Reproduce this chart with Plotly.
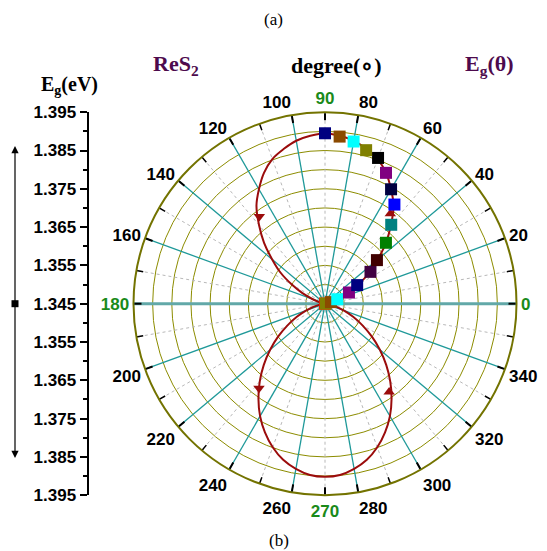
import plotly.graph_objects as go

# ---------------- data ----------------
# measured squares (angle in degrees, band gap in eV)
point_theta = [0, 5, 10, 15, 20, 25, 30, 35, 40, 45, 50, 55, 60, 65, 70, 75, 80, 85, 90]
point_eg = [1.3450, 1.3450, 1.3452, 1.3466, 1.3484, 1.3519, 1.3547, 1.3595, 1.3627, 1.3675,
            1.3719, 1.3766, 1.3795, 1.3827, 1.3855, 1.3865, 1.3880, 1.3888, 1.3895]
point_colors = ["#ff8000", "#ee1111", "#808000", "#8b4a00", "#00ffff", "#800080", "#000080",
                "#400040", "#400000", "#008000", "#008080", "#0000ff", "#000040", "#800080",
                "#000000", "#808000", "#00ffff", "#8b4a00", "#000080"]

# fitted curve (read every 5 degrees)
curve_theta = list(range(0, 365, 5))
curve_eg = [1.3450, 1.3451, 1.3455, 1.3466, 1.3484, 1.3515, 1.3550, 1.3592, 1.3630, 1.3675,
            1.3718, 1.3762, 1.3795, 1.3827, 1.3852, 1.3868, 1.3882, 1.3890, 1.3895,
            1.3890, 1.3882, 1.3868, 1.3852, 1.3827, 1.3795, 1.3762, 1.3718, 1.3675, 1.3630,
            1.3592, 1.3550, 1.3515, 1.3484, 1.3466, 1.3455, 1.3451, 1.3450,
            1.3453, 1.3464, 1.3480, 1.3503, 1.3531, 1.3563, 1.3599, 1.3637, 1.3676, 1.3715,
            1.3753, 1.3789, 1.3821, 1.3849, 1.3872, 1.3888, 1.3899, 1.3902,
            1.3899, 1.3888, 1.3872, 1.3849, 1.3821, 1.3789, 1.3753, 1.3715, 1.3676, 1.3637,
            1.3599, 1.3563, 1.3531, 1.3503, 1.3480, 1.3464, 1.3453, 1.3450]

# direction arrows on the curve
arrow_theta = [127, 54, 232, 306]
arrow_eg = [1.3735, 1.3740, 1.3730, 1.3735]
arrow_symbols = ["triangle-down", "triangle-up", "triangle-down", "triangle-up"]

# axes
radial_min, radial_max = 1.345, 1.395
ring_vals = [1.350, 1.355, 1.360, 1.365, 1.370, 1.375, 1.380, 1.385, 1.390, 1.395]
angle_tickvals = [0, 20, 40, 60, 80, 90, 100, 120, 140, 160, 180, 200, 220, 240, 260, 270,
                  280, 300, 320, 340]
angle_ticktext = ["0", "20", "40", "60", "80", "90", "100", "120", "140", "160", "180",
                  "200", "220", "240", "260", "270", "280", "300", "320", "340"]
green_angles = [0, 90, 180, 270]
left_labels = ["1.395", "1.385", "1.375", "1.365", "1.355", "1.345",
               "1.355", "1.365", "1.375", "1.385", "1.395"]
left_signs = [1, 1, 1, 1, 1, 0, -1, -1, -1, -1, -1]

# ---------------- figure ----------------
W, H = 547, 551
cx, cy, R = 325, 303.7, 191.5
dom_x = [(cx - R) / W, (cx + R) / W]
dom_y = [(H - cy - R) / H, (H - cy + R) / H]

fig = go.Figure()


def spokes(angles, r0=radial_min, r1=radial_max):
    rr, tt = [], []
    for a in angles:
        rr += [r0, r1, None]
        tt += [a, a, None]
    return rr, tt


# dotted 10-degree spokes
r1, t1 = spokes(list(range(10, 360, 20)))
fig.add_trace(go.Scatterpolar(r=r1, theta=t1, mode="lines",
                              line=dict(color="#b8b8b8", width=1, dash="dot"),
                              hoverinfo="skip", showlegend=False))
# teal 20-degree spokes
r2, t2 = spokes([a for a in range(20, 360, 20) if a != 180])
fig.add_trace(go.Scatterpolar(r=r2, theta=t2, mode="lines",
                              line=dict(color="#1f9999", width=1.3),
                              hoverinfo="skip", showlegend=False))
# horizontal axis line
r3, t3 = spokes([0, 180])
fig.add_trace(go.Scatterpolar(r=r3, theta=t3, mode="lines",
                              line=dict(color="#62a8a8", width=3),
                              hoverinfo="skip", showlegend=False))
# black minor ticks on the outer circle
r4, t4 = spokes([a for a in range(10, 360, 20) if a not in (90, 270)],
                r0=radial_max - 0.0018, r1=radial_max)
fig.add_trace(go.Scatterpolar(r=r4, theta=t4, mode="lines",
                              line=dict(color="black", width=1.5),
                              hoverinfo="skip", showlegend=False))

# curve
fig.add_trace(go.Scatterpolar(r=curve_eg, theta=curve_theta, mode="lines",
                              line=dict(color="#9b0c0c", width=2, shape="spline"),
                              showlegend=False))
fig.add_trace(go.Scatterpolar(r=arrow_eg, theta=arrow_theta, mode="markers",
                              marker=dict(symbol=arrow_symbols, size=10, color="#9b0c0c"),
                              showlegend=False))
# squares
fig.add_trace(go.Scatterpolar(r=point_eg, theta=point_theta, mode="markers",
                              marker=dict(symbol="square", size=12, color=point_colors,
                                          line=dict(width=0)),
                              showlegend=False))

# left axis helper trace (invisible)
left_vals = [s * (float(l) - radial_min) for s, l in zip(left_signs, left_labels)]
fig.add_trace(go.Scatter(x=[0, 0], y=[left_vals[0], left_vals[-1]], mode="lines",
                         line=dict(width=0, color="rgba(0,0,0,0)"),
                         hoverinfo="skip", showlegend=False))
minor_vals = [(left_vals[i] + left_vals[i + 1]) / 2 for i in range(len(left_vals) - 1)]

ticktext = []
for a, t in zip(angle_tickvals, angle_ticktext):
    if a in green_angles:
        ticktext.append("<span style='color:#1a8a1a'>" + t + "</span>")
    else:
        ticktext.append(t)

fig.update_layout(
    width=W, height=H, autosize=False,
    margin=dict(l=0, r=0, t=0, b=0, pad=0, autoexpand=False),
    paper_bgcolor="white", plot_bgcolor="white",
    showlegend=False,
    polar=dict(
        domain=dict(x=dom_x, y=dom_y),
        bgcolor="white",
        angularaxis=dict(rotation=0, direction="counterclockwise",
                         tickmode="array", tickvals=angle_tickvals, ticktext=ticktext,
                         ticks="inside", ticklen=7, tickwidth=1.5, tickcolor="black",
                         showgrid=False, showline=True, linecolor="#737300", linewidth=2,
                         tickfont=dict(family="Liberation Sans", size=17, color="black",
                                       weight="bold")),
        radialaxis=dict(range=[radial_min, radial_max], tickmode="array", tickvals=ring_vals,
                        showgrid=True, gridcolor="#8c8c00", gridwidth=1.4,
                        showticklabels=False, ticks="", showline=False),
    ),
    xaxis=dict(domain=[0, 0.16], visible=False, range=[-1, 1], automargin=False),
    yaxis=dict(domain=dom_y, anchor="free", position=87.5 / W, side="left",
               automargin=False,
               range=[left_vals[-1], left_vals[0]], tickmode="array",
               tickvals=left_vals, ticktext=left_labels,
               ticks="outside", ticklen=7, tickwidth=2, tickcolor="black",
               minor=dict(tickmode="array", tickvals=minor_vals, ticks="outside",
                          ticklen=4, tickwidth=1.5, tickcolor="black"),
               showline=True, linecolor="black", linewidth=2,
               showgrid=False, zeroline=False,
               tickfont=dict(family="Liberation Sans", size=17, color="black", weight="bold")),
)

serif = "Liberation Serif"
purple = "#4d0a4d"
ann = [
    dict(text="(a)", x=273 / W, y=1 - 20 / H, font=dict(family=serif, size=17, color="black")),
    dict(text="(b)", x=279 / W, y=1 - 540 / H, font=dict(family=serif, size=17, color="black")),
    dict(text="<b>ReS<sub>2</sub></b>", x=176 / W, y=1 - 65 / H,
         font=dict(family=serif, size=22, color=purple)),
    dict(text="<b>degree(∘)</b>", x=336 / W, y=1 - 65 / H,
         font=dict(family=serif, size=22, color="black")),
    dict(text="<b>E<sub>g</sub>(θ)</b>", x=489 / W, y=1 - 65 / H,
         font=dict(family=serif, size=22, color=purple)),
    dict(text="<b>E<sub>g</sub>(eV)</b>", x=69 / W, y=1 - 85 / H,
         font=dict(family=serif, size=20, color="black")),
]
for a in ann:
    a.update(xref="paper", yref="paper", showarrow=False, xanchor="center", yanchor="middle")
    fig.add_annotation(**a)

# double arrow on the left
ax_x = 15 / W
fig.add_annotation(x=ax_x, y=1 - 146 / H, xref="paper", yref="paper", ax=0, ay=157.7,
                   text="", showarrow=True, arrowhead=2, arrowsize=1.2, arrowwidth=1.2,
                   arrowcolor="black")
fig.add_annotation(x=ax_x, y=1 - 458 / H, xref="paper", yref="paper", ax=0, ay=-154.3,
                   text="", showarrow=True, arrowhead=2, arrowsize=1.2, arrowwidth=1.2,
                   arrowcolor="black")
fig.add_shape(type="rect", xref="paper", yref="paper", xsizemode="pixel", ysizemode="pixel",
              xanchor=ax_x, yanchor=1 - cy / H, x0=-3.5, x1=3.5, y0=-3.5, y1=3.5,
              fillcolor="black", line=dict(width=0))

fig.write_html("out.html", config={"displayModeBar": False},
               post_script="document.body.style.margin='0';document.body.style.overflow='hidden';")
